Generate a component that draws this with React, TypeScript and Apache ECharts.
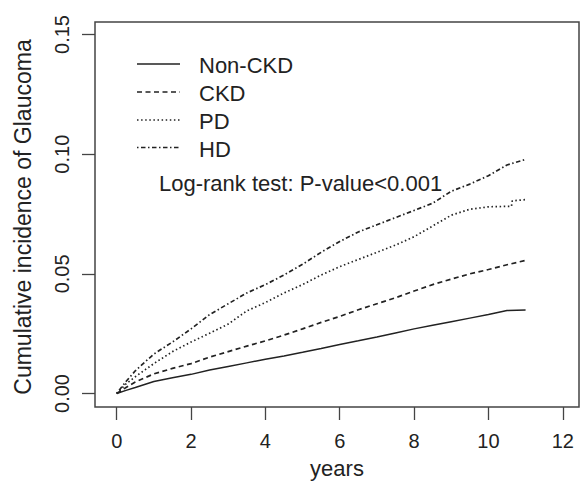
import React, { useEffect, useRef } from "react";
import * as echarts from "echarts";

// ---- data ----
const xTicks = [0, 2, 4, 6, 8, 10, 12];
const yTicks = [0, 0.05, 0.1, 0.15];

const legendNames = ["Non-CKD", "CKD", "PD", "HD"];

const gridTimes = [0, 0.25, 0.5, 1, 1.5, 2, 2.5, 3, 3.5, 4, 4.5, 5, 5.5, 6, 6.5, 7, 7.5, 8, 8.5, 9, 9.5, 10, 10.5, 11];

const nonCkdTimes = gridTimes;
const nonCkdValues = [0, 0.0013, 0.0025, 0.005, 0.0066, 0.008, 0.0098, 0.0113, 0.0128, 0.0143, 0.0157, 0.0172, 0.0188, 0.0205, 0.022, 0.0236, 0.0253, 0.027, 0.0285, 0.03, 0.0315, 0.033, 0.0347, 0.0349];

const ckdTimes = gridTimes;
const ckdValues = [0, 0.0025, 0.0048, 0.0082, 0.0105, 0.0125, 0.0152, 0.0175, 0.0198, 0.022, 0.0244, 0.027, 0.0297, 0.0322, 0.035, 0.0375, 0.04, 0.0428, 0.0455, 0.0478, 0.05, 0.0518, 0.0538, 0.0556];

const pdTimes = [0, 0.25, 0.5, 1, 1.5, 2, 2.5, 3, 3.5, 4, 4.5, 5, 5.5, 6, 6.5, 7, 7.5, 8, 8.5, 9, 9.5, 10, 10.5, 10.62, 10.64, 11];
const pdValues = [0, 0.004, 0.007, 0.0125, 0.0175, 0.0215, 0.0252, 0.029, 0.0345, 0.038, 0.042, 0.0455, 0.0495, 0.053, 0.056, 0.059, 0.062, 0.0655, 0.07, 0.0745, 0.077, 0.078, 0.0782, 0.0782, 0.0805, 0.081];

const hdTimes = gridTimes;
const hdValues = [0, 0.005, 0.0095, 0.0165, 0.0215, 0.027, 0.033, 0.0375, 0.042, 0.0455, 0.0495, 0.054, 0.059, 0.0635, 0.0675, 0.0705, 0.0735, 0.0765, 0.0795, 0.0845, 0.0875, 0.091, 0.0955, 0.0978];

const annotation = "Log-rank test: P-value<0.001";
const xTitle = "years";
const yTitle = "Cumulative incidence of Glaucoma";

const INK = "#222";
const FONT = "'Liberation Sans', Arial, sans-serif";
const dashes: (number[] | null)[] = [null, [5, 3.5], [1.5, 2.6], [1.5, 2.5, 4.5, 2.5]];

function pairs(t: number[], v: number[]) {
  return t.map((x, i) => [x, v[i]]);
}

export default function App() {
  const ref = useRef<HTMLDivElement>(null);
  useEffect(() => {
    if (!ref.current) return;
    const chart = echarts.init(ref.current, null, { renderer: "svg" });
    const seriesData = [
      pairs(nonCkdTimes, nonCkdValues),
      pairs(ckdTimes, ckdValues),
      pairs(pdTimes, pdValues),
      pairs(hdTimes, hdValues),
    ];
    const legendY = [64, 92, 120, 147.5];
    const legendGraphics: any[] = [];
    legendNames.forEach((name, i) => {
      legendGraphics.push({
        type: "line",
        shape: { x1: 137, y1: legendY[i], x2: 180, y2: legendY[i] },
        style: { stroke: INK, lineWidth: 1.5, lineDash: dashes[i] || undefined },
      });
      legendGraphics.push({
        type: "text",
        x: 199,
        y: legendY[i] + 1.5,
        style: { text: name, font: `22px ${FONT}`, fill: INK, textAlign: "left", textVerticalAlign: "middle" },
      });
    });
    chart.setOption({
      animation: false,
      backgroundColor: "#fff",
      grid: {
        left: 95,
        right: 2,
        top: 22,
        bottom: 74,
        outerBoundsMode: "none",
        show: true,
        borderColor: "#444",
        borderWidth: 1.5,
        backgroundColor: "transparent",
      },
      xAxis: {
        type: "value",
        min: -0.584,
        max: 12.437,
        axisLine: { show: false, onZero: false },
        axisTick: { show: true, length: 13, inside: false, customValues: xTicks, lineStyle: { color: "#444", width: 1.3 } },
        axisLabel: { margin: 24, color: INK, fontSize: 20, fontFamily: FONT, customValues: xTicks, formatter: (v: number) => String(v) },
        splitLine: { show: false },
      },
      yAxis: {
        type: "value",
        min: -0.00564,
        max: 0.15523,
        axisLine: { show: false, onZero: false },
        axisTick: { show: true, length: 13, inside: false, customValues: yTicks, lineStyle: { color: "#444", width: 1.3 } },
        axisLabel: {
          margin: 23,
          rotate: 90,
          color: INK,
          fontSize: 20,
          fontFamily: FONT,
          customValues: yTicks,
          formatter: (v: number) => v.toFixed(2),
        },
        splitLine: { show: false },
      },
      series: seriesData.map((d, i) => ({
        type: "line",
        name: legendNames[i],
        data: d,
        symbol: "none",
        lineStyle: { color: INK, width: i === 0 ? 1.5 : 1.7, type: dashes[i] || "solid" },
      })),
      graphic: [
        ...legendGraphics,
        {
          type: "text",
          x: 159,
          y: 183,
          style: { text: annotation, font: `22px ${FONT}`, fill: INK, textAlign: "left", textVerticalAlign: "middle" },
        },
        {
          type: "text",
          x: 337,
          y: 468,
          style: { text: xTitle, font: `22px ${FONT}`, fill: INK, textAlign: "center", textVerticalAlign: "middle" },
        },
        {
          type: "text",
          x: 23,
          y: 217,
          rotation: Math.PI / 2,
          style: { text: yTitle, font: `23px ${FONT}`, fill: INK, textAlign: "center", textVerticalAlign: "middle" },
        },
      ],
    });
    return () => chart.dispose();
  }, []);
  return <div ref={ref} style={{ position: "fixed", left: 0, top: 0, width: 581, height: 481 }} />;
}
